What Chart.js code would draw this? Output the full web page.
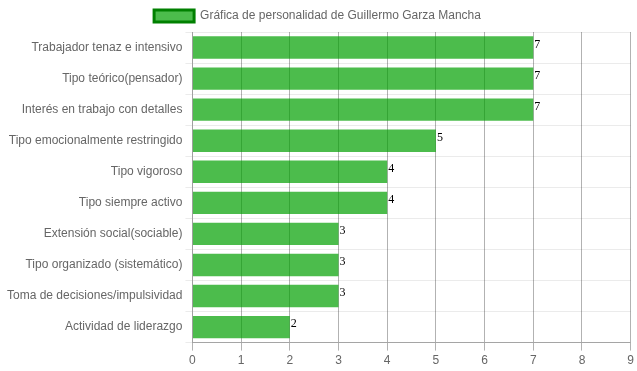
<!DOCTYPE html>
<html>
<head>
<meta charset="utf-8">
<script src="https://cdn.jsdelivr.net/npm/chart.js@4/dist/chart.umd.min.js"></script>
<style>
  html, body { margin: 0; padding: 0; background: #fff; }
  #wrap { width: 637px; height: 371px; }
</style>
</head>
<body>
<div id="wrap"><canvas id="personalidadChart"></canvas></div>
<script>
// === Data ===
const categories = [
  'Trabajador tenaz e intensivo',
  'Tipo teórico(pensador)',
  'Interés en trabajo con detalles',
  'Tipo emocionalmente restringido',
  'Tipo vigoroso',
  'Tipo siempre activo',
  'Extensión social(sociable)',
  'Tipo organizado (sistemático)',
  'Toma de decisiones/impulsividad',
  'Actividad de liderazgo'
];
const scores = [7, 7, 7, 5, 4, 4, 3, 3, 3, 2];
const seriesName = 'Gráfica de personalidad de Guillermo Garza Mancha';

// === Value labels at the end of each bar ===
const valueLabels = {
  id: 'valueLabels',
  afterDatasetsDraw(chart) {
    const c = chart.ctx;
    const meta = chart.getDatasetMeta(0);
    c.save();
    c.font = '12px "Liberation Serif", serif';
    c.fillStyle = '#000';
    c.textAlign = 'left';
    c.textBaseline = 'top';
    meta.data.forEach((bar, i) => {
      c.fillText(scores[i], bar.x + 1, bar.y - bar.height / 2 + 2);
    });
    c.restore();
  }
};

const ctx = document.getElementById('personalidadChart').getContext('2d');
const chart = new Chart(ctx, {
  type: 'bar',
  data: {
    labels: categories,
    datasets: [{
      label: seriesName,
      data: scores,
      backgroundColor: 'rgba(0, 160, 0, 0.7)',
      borderColor: 'rgba(0, 128, 0, 1)',
      borderWidth: 0
    }]
  },
  plugins: [valueLabels],
  options: {
    indexAxis: 'y',
    responsive: true,
    maintainAspectRatio: false,
    animation: false,
    layout: { padding: { left: 4, right: 6, bottom: 0 } },
    plugins: {
      legend: {
        labels: {
          color: '#666',
          font: { family: '"Liberation Sans", Arial, sans-serif', size: 12 },
          boxWidth: 40,
          boxHeight: 12,
          generateLabels: (ch) => [{
            text: seriesName,
            fillStyle: 'rgba(0, 160, 0, 0.7)',
            strokeStyle: 'rgba(0, 128, 0, 1)',
            lineWidth: 3,
            datasetIndex: 0,
            fontColor: '#666'
          }]
        }
      },
      tooltip: { enabled: false }
    },
    scales: {
      x: {
        min: 0,
        max: 9,
        ticks: {
          stepSize: 1,
          color: '#666',
          font: { family: '"Liberation Sans", Arial, sans-serif', size: 12 }
        },
        grid: { color: 'rgba(0,0,0,0.3)', tickLength: 8 },
        border: { color: 'rgba(0,0,0,0.3)' }
      },
      y: {
        ticks: {
          color: '#666',
          font: { family: '"Liberation Sans", Arial, sans-serif', size: 12 }
        },
        grid: { color: 'rgba(0,0,0,0.08)', tickLength: 7 },
        border: { color: 'rgba(0,0,0,0.1)' }
      }
    }
  }
});
</script>
</body>
</html>
